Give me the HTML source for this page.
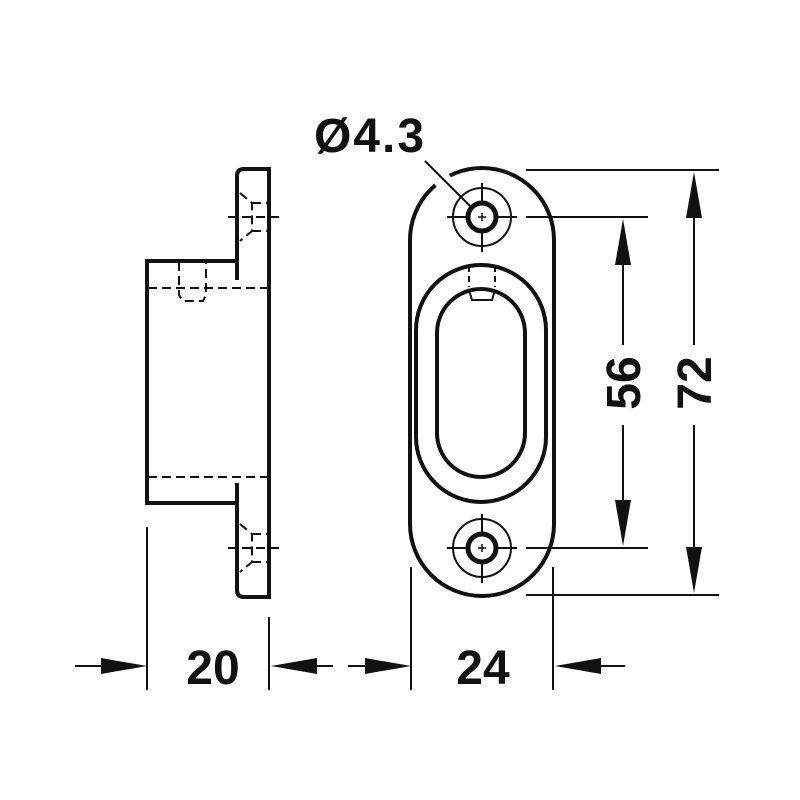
<!DOCTYPE html>
<html><head><style>html,body{margin:0;padding:0;background:#fff}svg{display:block}</style></head>
<body>
<svg width="800" height="800" viewBox="0 0 800 800" xmlns="http://www.w3.org/2000/svg" font-family="'Liberation Sans',sans-serif" font-weight="bold">
<g fill="none" stroke="#111" stroke-linecap="butt">
<!-- left view -->
<path d="M237 280 V176 Q237 169 244 169 H269 V597 H244 Q237 597 237 590 V483" stroke-width="4"/>
<path d="M237 261 H147 V503 H237" stroke-width="4"/>
<g stroke-width="2" stroke-dasharray="9,5">
<line x1="148" y1="288" x2="268" y2="288"/>
<line x1="148" y1="477" x2="268" y2="477"/>
<line x1="228" y1="217" x2="284" y2="217"/>
<line x1="228" y1="548" x2="284" y2="548"/>
<path d="M179 262 V295 L183 301 H203 L206 295 V262"/>
<path d="M240 193 L252 203 V231 L240 241 M252 203 H268 M252 231 H268"/>
<path d="M240 524 L252 534 V562 L240 572 M252 534 H268 M252 562 H268"/>
</g>
<!-- front view -->
<path d="M410 240 A72 72 0 0 1 554 240 V524 A72 72 0 0 1 410 524 Z" stroke-width="4"/>
<line x1="436" y1="186" x2="450" y2="176" stroke="#fff" stroke-width="8"/>
<path d="M416 330 A65 65 0 0 1 546 330 V437 A65 65 0 0 1 416 437 Z" stroke-width="4"/>
<path d="M437 333 A44 44 0 0 1 525 333 V433 A44 44 0 0 1 437 433 Z" stroke-width="4"/>
<path d="M469 266 V287 M495 266 V287" stroke-width="2" stroke-dasharray="6,4"/>
<path d="M469 290 L472 300 H492 L495 290" stroke-width="2"/>
<g stroke-width="2">
<circle cx="482" cy="217" r="29"/><circle cx="482" cy="548" r="29"/>
<line x1="447" y1="217" x2="517" y2="217"/><line x1="482" y1="183" x2="482" y2="252"/>
<line x1="447" y1="548" x2="517" y2="548"/><line x1="482" y1="514" x2="482" y2="583"/>
<line x1="425" y1="161" x2="470" y2="206"/>
</g>
<circle cx="482" cy="217" r="14" stroke-width="5" fill="#fff"/>
<circle cx="482" cy="548" r="14" stroke-width="5" fill="#fff"/>
<path d="M478 217 H486 M482 213 V221 M478 548 H486 M482 544 V552" stroke-width="1.5"/>
<!-- dimension lines -->
<g stroke-width="2">
<line x1="526" y1="170" x2="719" y2="170"/>
<line x1="526" y1="595" x2="719" y2="595"/>
<line x1="526" y1="217" x2="648" y2="217"/>
<line x1="526" y1="548" x2="648" y2="548"/>
<line x1="623" y1="225" x2="623" y2="345"/><line x1="623" y1="425" x2="623" y2="540"/>
<line x1="694" y1="178" x2="694" y2="345"/><line x1="694" y1="425" x2="694" y2="587"/>
<line x1="147" y1="527" x2="147" y2="690"/>
<line x1="269" y1="617" x2="269" y2="690"/>
<line x1="411" y1="567" x2="411" y2="690"/>
<line x1="553" y1="567" x2="553" y2="690"/>
<line x1="75" y1="666" x2="140" y2="666"/>
<line x1="278" y1="666" x2="333" y2="666"/>
<line x1="348" y1="666" x2="404" y2="666"/>
<line x1="560" y1="666" x2="625" y2="666"/>
</g>
</g>
<g fill="#111">
<polygon points="623,219 615,265 631,265"/>
<polygon points="623,546 615,500 631,500"/>
<polygon points="694,172 686,218 702,218"/>
<polygon points="694,593 686,547 702,547"/>
<polygon points="147,666 101,658 101,674"/>
<polygon points="271,666 317,658 317,674"/>
<polygon points="411,666 365,658 365,674"/>
<polygon points="555,666 601,658 601,674"/>
<text x="370" y="152" font-size="48" text-anchor="middle" letter-spacing="2">Ø4.3</text>
<text x="213" y="684" font-size="48" text-anchor="middle">20</text>
<text x="483" y="684" font-size="48" text-anchor="middle">24</text>
<text transform="translate(640,383) rotate(-90)" font-size="48" text-anchor="middle">56</text>
<text transform="translate(711,383) rotate(-90)" font-size="48" text-anchor="middle">72</text>
</g>
</svg>
</body></html>
